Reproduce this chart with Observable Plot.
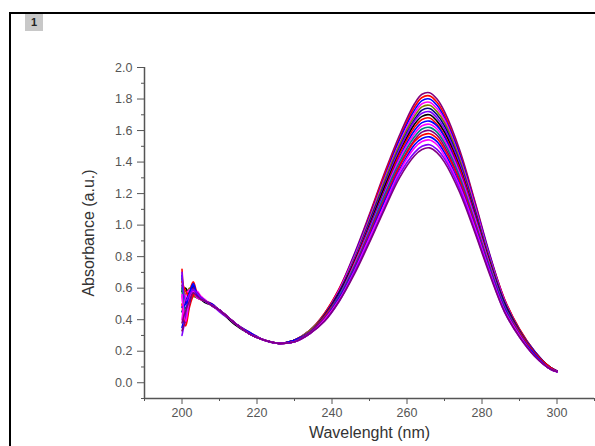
<!DOCTYPE html>
<html>
<head>
<meta charset="utf-8">
<script src="https://cdn.jsdelivr.net/npm/d3@7"></script>
<script src="https://cdn.jsdelivr.net/npm/@observablehq/plot@0.6"></script>
<style>
  html, body { margin: 0; padding: 0; background: #fff; }
  body { width: 595px; height: 446px; position: relative; overflow: hidden; font-family: "Liberation Sans", Arial, sans-serif; }
  #frame { position: absolute; left: 9px; top: 12px; width: 600px; height: 450px; border-top: 2px solid #000; border-left: 2px solid #000; }
  #tag { position: absolute; left: 25px; top: 14px; width: 18px; height: 17px; background: #c8c8c8; font: bold 11px "Liberation Sans", Arial, sans-serif; color: #222; text-align: center; line-height: 17px; }
  #chart { position: absolute; left: 0; top: 0; }
</style>
</head>
<body>
<div id="frame"></div>
<div id="tag">1</div>
<div id="chart"></div>
<script>
const wavelength = [200,201,202,203,204,205,206,208,210,214,218,222,226,230,234,238,242,246,250,254,258,262,264,266,268,270,274,278,282,286,290,294,298,300];

const s01 = [.62,.40,.55,.60,.56,.54,.52,.49,.46,.38,.31,.27,.25, .27,.33,.44,.60,.82,1.07,1.33,1.57,1.77,1.83,1.84,1.80,1.72,1.48,1.16,.82,.53,.34,.20,.10,.075];
const s02 = [.72,.50,.58,.64,.57,.53,.52,.50,.46,.38,.32,.27,.25, .27,.33,.44,.60,.81,1.06,1.32,1.55,1.75,1.81,1.82,1.78,1.70,1.46,1.15,.81,.53,.34,.20,.10,.075];
const s03 = [.35,.44,.52,.58,.55,.54,.52,.49,.46,.38,.31,.27,.25, .27,.33,.43,.59,.81,1.05,1.30,1.54,1.73,1.79,1.80,1.76,1.68,1.45,1.14,.81,.52,.33,.20,.10,.074];
const s04 = [.55,.38,.50,.56,.58,.55,.53,.49,.46,.38,.31,.27,.25, .27,.33,.43,.59,.80,1.04,1.29,1.52,1.71,1.77,1.78,1.74,1.67,1.43,1.13,.80,.52,.33,.19,.10,.074];
const s05 = [.66,.56,.60,.55,.54,.53,.52,.49,.46,.38,.31,.27,.25, .27,.33,.43,.58,.79,1.03,1.28,1.51,1.69,1.75,1.76,1.72,1.65,1.42,1.11,.79,.51,.33,.19,.10,.073];
const s06 = [.45,.52,.57,.61,.55,.54,.52,.49,.46,.38,.31,.27,.25, .27,.32,.43,.58,.78,1.02,1.26,1.49,1.67,1.73,1.74,1.70,1.63,1.40,1.10,.78,.51,.33,.19,.10,.073];
const s07 = [.30,.42,.54,.57,.56,.53,.52,.49,.45,.38,.31,.27,.25, .27,.32,.42,.57,.78,1.01,1.25,1.48,1.66,1.71,1.72,1.68,1.61,1.39,1.09,.78,.50,.32,.19,.10,.073];
const s08 = [.58,.60,.53,.59,.54,.53,.51,.49,.46,.37,.31,.27,.25, .27,.32,.42,.57,.77,1.00,1.24,1.46,1.64,1.69,1.70,1.66,1.59,1.37,1.08,.77,.50,.32,.19,.10,.072];
const s09 = [.50,.36,.48,.55,.57,.54,.52,.49,.46,.38,.31,.27,.25, .27,.32,.42,.56,.76,.99,1.22,1.45,1.62,1.67,1.68,1.64,1.57,1.36,1.07,.76,.49,.32,.19,.10,.072];
const s10 = [.68,.47,.56,.62,.56,.54,.52,.50,.46,.38,.32,.27,.25, .27,.32,.41,.56,.75,.98,1.21,1.43,1.60,1.65,1.66,1.63,1.56,1.34,1.06,.75,.49,.31,.18,.09,.072];
const s11 = [.40,.55,.59,.58,.55,.53,.52,.49,.46,.38,.31,.27,.25, .26,.32,.41,.55,.75,.97,1.20,1.42,1.58,1.63,1.64,1.61,1.54,1.33,1.05,.75,.48,.31,.18,.09,.071];
const s12 = [.60,.45,.51,.57,.56,.54,.52,.49,.46,.38,.31,.27,.25, .26,.32,.41,.55,.74,.96,1.19,1.40,1.56,1.61,1.62,1.59,1.52,1.31,1.03,.74,.48,.31,.18,.09,.071];
const s13 = [.33,.40,.50,.60,.57,.54,.52,.49,.46,.38,.31,.27,.25, .26,.32,.41,.54,.73,.95,1.17,1.38,1.54,1.59,1.60,1.57,1.50,1.29,1.02,.73,.47,.31,.18,.09,.071];
const s14 = [.64,.58,.55,.56,.55,.53,.52,.49,.46,.38,.31,.27,.25, .26,.31,.40,.54,.72,.94,1.16,1.37,1.53,1.57,1.58,1.55,1.48,1.28,1.01,.72,.47,.30,.18,.09,.071];
const s15 = [.48,.50,.57,.63,.56,.54,.52,.49,.46,.38,.31,.27,.25, .26,.31,.40,.54,.72,.93,1.15,1.35,1.51,1.55,1.56,1.53,1.46,1.26,1.00,.72,.47,.30,.18,.09,.070];
const s16 = [.56,.39,.53,.58,.54,.53,.52,.49,.46,.38,.31,.27,.25, .26,.31,.40,.53,.71,.92,1.13,1.34,1.49,1.53,1.54,1.51,1.44,1.25,.99,.71,.46,.30,.17,.09,.070];
const s17 = [.70,.52,.56,.59,.57,.54,.52,.49,.46,.38,.31,.27,.25, .26,.31,.39,.52,.70,.90,1.11,1.32,1.46,1.50,1.51,1.48,1.42,1.23,.97,.70,.45,.29,.17,.09,.070];
const s18 = [.38,.46,.52,.57,.55,.53,.52,.49,.46,.38,.31,.27,.25, .26,.31,.39,.52,.69,.89,1.10,1.30,1.44,1.48,1.49,1.46,1.40,1.21,.96,.69,.45,.29,.17,.09,.070];

const seriesList = [s01,s02,s03,s04,s05,s06,s07,s08,s09,s10,s11,s12,s13,s14,s15,s16,s17,s18];
const seriesColors = ["#800080","#FF0000","#0000FF","#FF00FF","#808000","#000080","#8000FF","#000000","#FF0000","#0000FF","#FF00FF","#008080","#800080","#FF0000","#0000FF","#FF00FF","#8000FF","#800080"];

const xTicks = [200,220,240,260,280,300];
const xMinor = [190,210,230,250,270,290,310];
const yTicks = [0,0.2,0.4,0.6,0.8,1.0,1.2,1.4,1.6,1.8,2.0];
const yMinor = [-0.1,0.1,0.3,0.5,0.7,0.9,1.1,1.3,1.5,1.7,1.9];

const rows = [];
seriesList.forEach((s, i) => {
  s.forEach((v, j) => rows.push({w: wavelength[j], a: v, id: i, color: seriesColors[i]}));
});

const axisColor = "#555";
const chart = Plot.plot({
  width: 595,
  height: 446,
  marginLeft: 144,
  marginRight: 1,
  marginTop: 67,
  marginBottom: 48,
  style: {fontFamily: "'Liberation Sans', Arial, sans-serif", background: "transparent", overflow: "visible"},
  x: {domain: [190, 310]},
  y: {domain: [-0.1, 2.0]},
  color: {type: "identity"},
  marks: [
    Plot.axisX({ticks: xTicks, tickSize: 6, tickPadding: 4, tickFormat: d3.format("d"), fontSize: 12.5, color: axisColor, label: null}),
    Plot.axisX({ticks: xMinor, tickSize: 3, tickFormat: () => "", color: axisColor, label: null}),
    Plot.axisY({ticks: yTicks, tickSize: 7, tickPadding: 5, tickFormat: d3.format(".1f"), fontSize: 12.5, color: axisColor, label: null}),
    Plot.axisY({ticks: yMinor, tickSize: 3, tickFormat: () => "", color: axisColor, label: null}),
    Plot.ruleX([190], {stroke: axisColor, strokeWidth: 1.5}),
    Plot.ruleY([-0.1], {stroke: axisColor, strokeWidth: 1.5}),
    Plot.line(rows, {x: "w", y: "a", z: "id", stroke: "color", strokeWidth: 1.6, curve: "catmull-rom"}),
    Plot.text(["Wavelenght (nm)"], {frameAnchor: "bottom", dy: 39, fontSize: 16, fill: "#333"}),
    Plot.text(["Absorbance (a.u.)"], {frameAnchor: "left", textAnchor: "middle", dx: -56, rotate: -90, fontSize: 16, fill: "#333"})
  ]
});
document.getElementById("chart").appendChild(chart);
</script>
</body>
</html>
